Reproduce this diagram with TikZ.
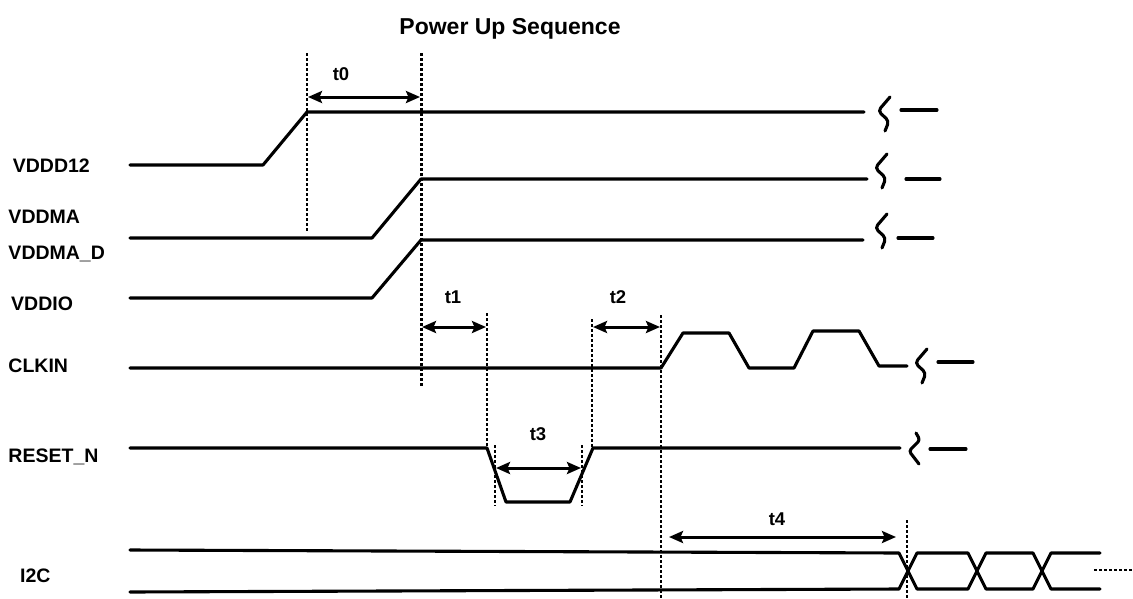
\documentclass[tikz,border=0pt]{standalone}
\usepackage{fontspec}
\setmainfont{Liberation Sans}
\usetikzlibrary{arrows.meta}
\tikzset{
  sig/.style={line width=3.1pt, line join=round, line cap=round},
  dotline/.style={line width=2.9pt, dash pattern=on 2.8pt off 2.2pt},
  dim/.style={line width=3pt, {Stealth[length=14pt,width=12pt,inset=2.5pt]}-{Stealth[length=14pt,width=12pt,inset=2.5pt]}},
  lbl/.style={anchor=base west, inner sep=0pt, font=\fontsize{19.5}{22}\selectfont\bfseries},
  tlbl/.style={anchor=base, inner sep=0pt, font=\fontsize{18.5}{21}\selectfont\bfseries},
  brkA/.pic={\draw[sig, rounded corners=4pt] (6,-17) -- (-6,-3) -- (5,7) -- (1,17);},
  brkB/.pic={\draw[sig, rounded corners=3pt] (2,-16) -- (6,-9) -- (-5,2) -- (5,15);}
}
\begin{document}
\begin{tikzpicture}[x=1pt, y=-1pt]
\useasboundingbox (0,0) rectangle (1133,598);
% title
\node[anchor=base, inner sep=0pt, font=\fontsize{23}{26}\selectfont\bfseries] (title) at (510,34) {Power Up Sequence};
% signal labels
\node[lbl] (lvddd) at (12.7,172) {VDDD12};
\node[lbl] (lvddma) at (8.3,223) {VDDMA};
\node[lbl] (lvddmad) at (8.3,259) {VDDMA\_D};
\node[lbl] (lvddio) at (11,310) {VDDIO};
\node[lbl] (lclk) at (8.3,372) {CLKIN};
\node[lbl] (lrst) at (8.3,462) {RESET\_N};
\node[lbl] (li2c) at (20,582) {I2C};
% dotted markers
\draw[dotline] (307,53) -- (307,232);
\draw[dotline] (421.5,53) -- (421.5,387);
\draw[dotline] (487,313) -- (487,449);
\draw[dotline] (495,445) -- (495,506);
\draw[dotline] (592,319) -- (592,449);
\draw[dotline] (582,445) -- (582,506);
\draw[dotline] (661,315) -- (661,598);
\draw[dotline] (907,520) -- (907,598);
% VDDD12
\draw[sig] (130,165) -- (263,165) -- (307,112) -- (864,112);
\pic at (884,114) {brkA};
\draw[sig] (901,110) -- (937,110);
% VDDMA
\draw[sig] (130,238) -- (372,238) -- (421,179) -- (867,179);
\pic at (881,171) {brkA};
\draw[sig] (906,179) -- (940,179);
% VDDIO
\draw[sig] (130,298) -- (372,298) -- (421,240) -- (863,240);
\pic at (881,231) {brkA};
\draw[sig] (898,238) -- (933,238);
% CLKIN
\draw[sig] (130,368) -- (661,368) -- (683,333) -- (729,333) -- (749,368) -- (794,368) -- (813,331) -- (859,331) -- (879,366) -- (907,366);
\pic at (921,366) {brkA};
\draw[sig] (938,362) -- (973,362);
% RESET_N
\draw[sig] (130,448) -- (487,448) -- (506,502) -- (570,502) -- (593,448) -- (900,448);
\pic at (914,449) {brkB};
\draw[sig] (930,449) -- (966,449);
% I2C
\draw[sig] (130,550) -- (899,553) -- (917,589) -- (968,589) -- (986,553) -- (1033,553) -- (1051,589) -- (1100,589);
\draw[sig] (130,592) -- (899,589) -- (917,553) -- (968,553) -- (986,589) -- (1033,589) -- (1051,553) -- (1100,553);
\draw[dotline, line width=2.6pt] (1094,570) -- (1133,570);
% timing arrows
\draw[dim] (308,97) -- (420,97);
\node[tlbl] (t0) at (341,80) {t0};
\draw[dim] (422,327) -- (486,327);
\node[tlbl] (t1) at (453,303) {t1};
\draw[dim] (593,327) -- (660,327);
\node[tlbl] (t2) at (618,303) {t2};
\draw[dim] (496,468) -- (581,468);
\node[tlbl] (t3) at (538,440) {t3};
\draw[dim] (669,537) -- (896,537);
\node[tlbl] (t4) at (777,525) {t4};
\end{tikzpicture}
\end{document}
